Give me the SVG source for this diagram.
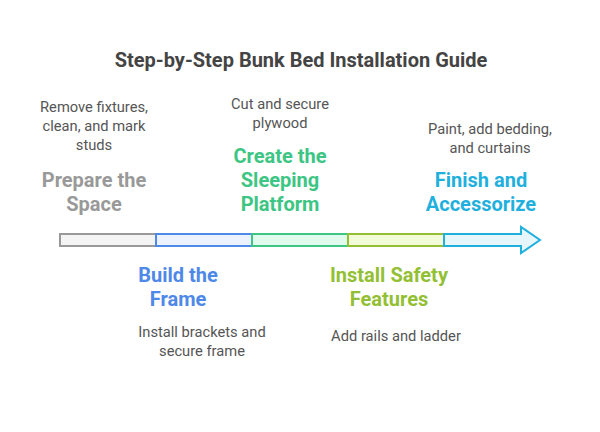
<svg xmlns="http://www.w3.org/2000/svg" width="600" height="432" viewBox="0 0 600 432">
<style>
.t{font-family:Roboto,"Liberation Sans",sans-serif;text-anchor:middle}
.title{font-size:20px;font-weight:bold;fill:#444}
.h{font-size:20px;font-weight:bold}
.d{font-size:14.7px;fill:#555}
.seg{stroke-width:2}
</style>
<rect width="600" height="432" fill="#fff"/>
<text class="t title" x="301" y="67">Step-by-Step Bunk Bed Installation Guide</text>
<g id="connectors">
<rect class="seg" x="60" y="234" width="96" height="12" fill="#f4f4f4" stroke="#999"/>
<rect class="seg" x="156" y="234" width="96" height="12" fill="#ebf2fd" stroke="#4e88e8"/>
<rect class="seg" x="252" y="234" width="96" height="12" fill="#e0fbee" stroke="#3cc583"/>
<rect class="seg" x="348" y="234" width="96" height="12" fill="#f3fcd8" stroke="#93bf34"/>
<path class="seg" d="M444 234 H521 V227 L540 240 L521 253 V246 H444 Z" fill="#e5f7fd" stroke="#1fb0dd"/>
</g>
<g id="step1">
<text class="t d" x="94" y="112">Remove fixtures,</text>
<text class="t d" x="94" y="131">clean, and mark</text>
<text class="t d" x="94" y="150">studs</text>
<text class="t h" x="94" y="187" fill="#999">Prepare the</text>
<text class="t h" x="94" y="211" fill="#999">Space</text>
</g>
<g id="step2">
<text class="t h" x="178" y="282" fill="#4e88e8">Build the</text>
<text class="t h" x="178" y="306" fill="#4e88e8">Frame</text>
<text class="t d" x="202" y="337">Install brackets and</text>
<text class="t d" x="202" y="356">secure frame</text>
</g>
<g id="step3">
<text class="t d" x="280" y="109">Cut and secure</text>
<text class="t d" x="280" y="128">plywood</text>
<text class="t h" x="280" y="163" fill="#3cc583">Create the</text>
<text class="t h" x="280" y="187" fill="#3cc583">Sleeping</text>
<text class="t h" x="280" y="211" fill="#3cc583">Platform</text>
</g>
<g id="step4">
<text class="t h" x="389" y="282" fill="#93bf34">Install Safety</text>
<text class="t h" x="389" y="306" fill="#93bf34">Features</text>
<text class="t d" x="396" y="341">Add rails and ladder</text>
</g>
<g id="step5">
<text class="t d" x="490" y="134">Paint, add bedding,</text>
<text class="t d" x="490" y="153">and curtains</text>
<text class="t h" x="481" y="187" fill="#1fb0dd">Finish and</text>
<text class="t h" x="481" y="211" fill="#1fb0dd">Accessorize</text>
</g>
</svg>
